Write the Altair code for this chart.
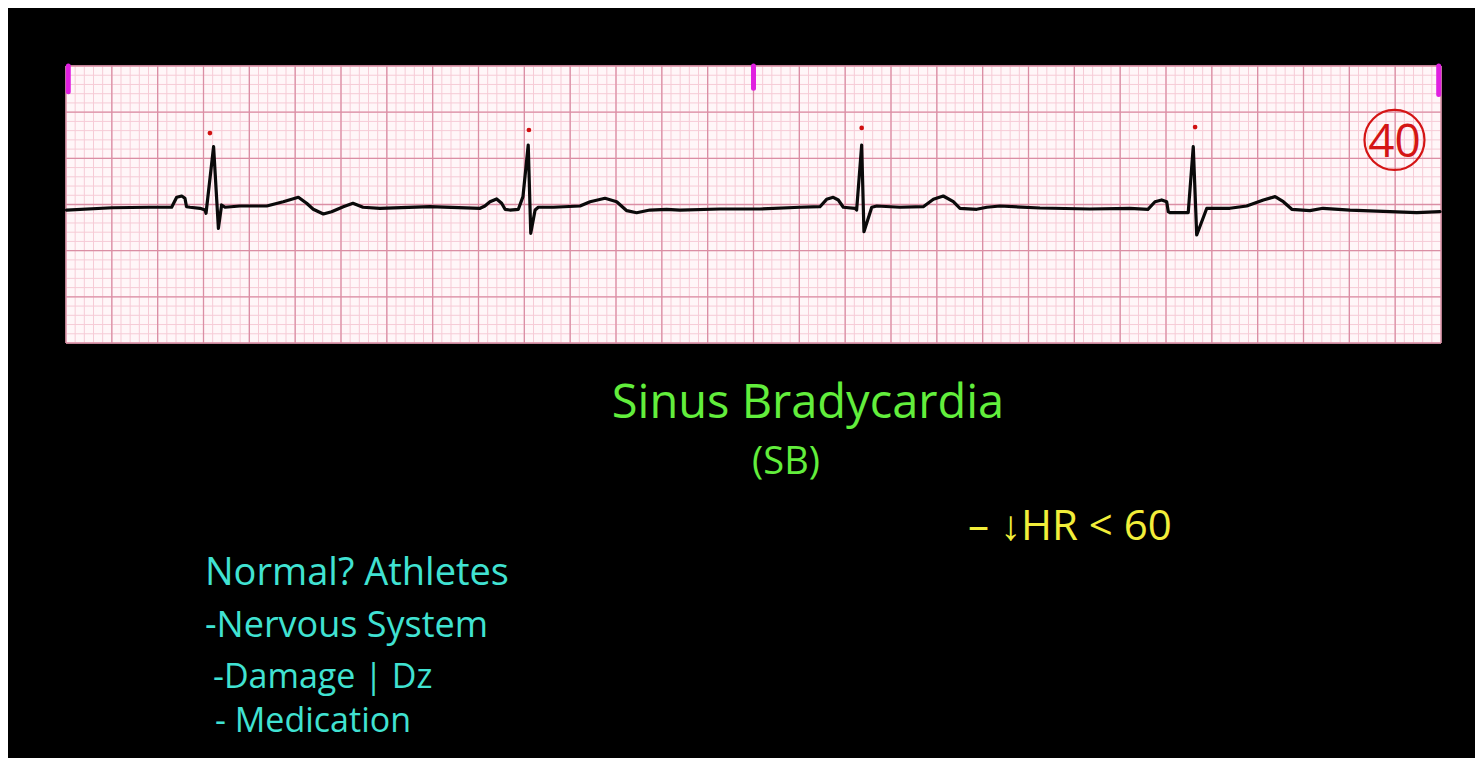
import altair as alt
import numpy as np
import pandas as pd

# ---- ECG trace (time in s at 25 mm/s, amplitude in mV at 10 mm/mV) ----
trace_t = [0.002, 0.201, 0.367, 0.461, 0.483, 0.505, 0.519, 0.526, 0.541, 0.585,
           0.607, 0.611, 0.644, 0.665, 0.679, 0.694, 0.759, 0.876, 0.948, 1.014,
           1.050, 1.079, 1.123, 1.159, 1.210, 1.252, 1.296, 1.370, 1.588, 1.807,
           1.828, 1.850, 1.879, 1.901, 1.916, 1.937, 1.974, 1.994, 2.017, 2.028,
           2.047, 2.061, 2.126, 2.243, 2.287, 2.352, 2.403, 2.447, 2.490, 2.548,
           2.621, 2.679, 2.854, 3.028, 3.203, 3.290,
           3.319, 3.348, 3.370, 3.392, 3.443, 3.450, 3.472, 3.482, 3.516, 3.538,
           3.639, 3.741, 3.785, 3.828, 3.872, 3.901, 3.974, 4.018, 4.076, 4.250,
           4.468, 4.643, 4.721,
           4.752, 4.781, 4.803, 4.810, 4.817, 4.897, 4.919, 4.934, 4.978, 5.079,
           5.152, 5.225, 5.276, 5.312, 5.349, 5.428, 5.485, 5.603, 5.894, 5.996]
trace_mv = [-0.060, -0.035, -0.030, -0.030, 0.078, 0.092, 0.067, -0.024, -0.030, -0.041,
            -0.060, -0.095, 0.626, -0.258, -0.005, -0.030, -0.016, -0.016, 0.030, 0.078,
            0.013, -0.052, -0.103, -0.078, -0.024, 0.013, -0.030, -0.041, -0.024, -0.041,
            -0.016, 0.030, 0.060, 0.013, -0.052, -0.060, -0.052, 0.085, 0.644, -0.312,
            -0.060, -0.030, -0.030, -0.016, 0.030, 0.067, 0.030, -0.067, -0.089, -0.060,
            -0.052, -0.060, -0.049, -0.049, -0.030, -0.024,
            0.056, 0.078, 0.049, -0.030, -0.041, -0.060, 0.644, -0.295, -0.030, -0.016,
            -0.030, -0.024, 0.056, 0.092, 0.030, -0.041, -0.052, -0.030, -0.016, -0.038,
            -0.049, -0.041, -0.052,
            0.030, 0.049, 0.030, -0.078, -0.089, -0.089, 0.626, -0.330, -0.041, -0.041,
            -0.016, 0.049, 0.085, 0.030, -0.052, -0.067, -0.041, -0.060, -0.089, -0.078]

# red R-wave tick marks
rmark_t = [0.628, 2.020, 3.472, 4.927]
rmark_mv = [0.774, 0.807, 0.829, 0.839]

# 3-second markers at top of strip
marker_t = [0.01, 3.0, 5.99]
marker_top = [1.5, 1.5, 1.5]
marker_bottom = [1.22, 1.26, 1.19]

# circled heart rate
hr_t = [5.797]
hr_mv = [0.699]
hr_label = ["40"]

# paper grid
small_t = np.round(np.arange(0, 6.0001, 0.04), 3)
big_t = np.round(np.arange(0, 6.0001, 0.2), 3)
small_mv = np.round(np.arange(-1.5, 1.5001, 0.1), 3)
big_mv = np.round(np.arange(-1.5, 1.5001, 0.5), 3)

# annotation texts
title_text = "Sinus Bradycardia"
abbr_text = "(SB)"
hr_text = "– ↓HR < 60"
cause_texts = ["Normal? Athletes", "-Nervous System", "-Damage | Dz", "- Medication"]

XS = alt.Scale(domain=[0, 6], nice=False, zero=False)
YS = alt.Scale(domain=[-1.5, 1.5], nice=False, zero=False)
FONT = "Open Sans"

def X(f):
    return alt.X(f, type="quantitative", scale=XS, axis=None)

def Y(f):
    return alt.Y(f, type="quantitative", scale=YS, axis=None)

SMALL_C = "#f6cbd6"
BIG_C = "#da8ea4"

small_v = alt.Chart(pd.DataFrame({"t": small_t})).mark_rule(
    color=SMALL_C, strokeWidth=1).encode(x=X("t"))
small_h = alt.Chart(pd.DataFrame({"mv": small_mv})).mark_rule(
    color=SMALL_C, strokeWidth=1).encode(y=Y("mv"))
big_v = alt.Chart(pd.DataFrame({"t": big_t})).mark_rule(
    color=BIG_C, strokeWidth=1.3).encode(x=X("t"))
big_h = alt.Chart(pd.DataFrame({"mv": big_mv})).mark_rule(
    color=BIG_C, strokeWidth=1.3).encode(y=Y("mv"))

markers = alt.Chart(pd.DataFrame({"t": marker_t, "top": marker_top, "bot": marker_bottom})).mark_rule(
    color="#e020e0", strokeWidth=5, strokeCap="round").encode(
    x=X("t"), y=Y("top"), y2="bot")

trace = alt.Chart(pd.DataFrame({"t": trace_t, "mv": trace_mv})).mark_line(
    color="#0a0a0a", strokeWidth=3.2, strokeJoin="round", strokeCap="round").encode(
    x=X("t"), y=Y("mv"))

rmarks = alt.Chart(pd.DataFrame({"t": rmark_t, "mv": rmark_mv})).mark_point(
    filled=True, color="#d01010", size=22, opacity=1).encode(x=X("t"), y=Y("mv"))

hr_df = pd.DataFrame({"t": hr_t, "mv": hr_mv, "label": hr_label})
hr_circle = alt.Chart(hr_df).mark_point(
    shape="circle", filled=False, color="#d41515", strokeWidth=2.2, size=3600, opacity=1).encode(
    x=X("t"), y=Y("mv"))
hr_num = alt.Chart(hr_df).mark_text(
    font=FONT, fontSize=46, color="#d41515", baseline="middle", align="center", dy=3).encode(
    x=X("t"), y=Y("mv"), text="label:N")

def note(txt, px, py, size, color, align="left"):
    return alt.Chart(pd.DataFrame({"label": [txt]})).mark_text(
        font=FONT, fontSize=size, color=color, align=align, baseline="alphabetic").encode(
        x=alt.value(px), y=alt.value(py), text="label:N")

GREEN = "#62ee3c"
YELLOW = "#f2ee3a"
CYAN = "#40e2d2"

notes = [
    note(title_text, 742, 352, 47, GREEN, "center"),
    note(abbr_text, 720, 408, 38, GREEN, "center"),
    note(hr_text, 902, 474, 42, YELLOW),
    note(cause_texts[0], 139, 519, 38, CYAN),
    note(cause_texts[1], 139, 571, 36, CYAN),
    note(cause_texts[2], 147, 622, 34, CYAN),
    note(cause_texts[3], 149, 666, 34, CYAN),
]

chart = alt.layer(
    small_v, small_h, big_v, big_h, markers, trace, rmarks, hr_circle, hr_num, *notes
).properties(
    width=1375, height=277,
    padding={"left": 58, "top": 58, "right": 34, "bottom": 415},
    autosize=alt.AutoSizeParams(type="none"),
    background="black",
).configure_view(fill="#fff6f8", strokeWidth=0)

chart.save("out.html", embed_options={"renderer": "svg", "actions": False})
